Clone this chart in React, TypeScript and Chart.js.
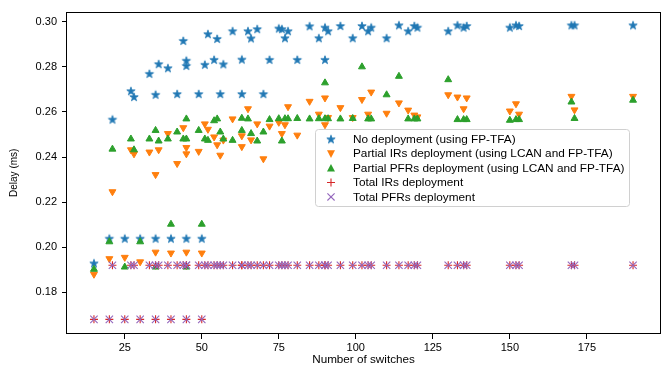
import React, { useEffect, useRef } from 'react';
import { Chart, registerables } from 'chart.js';

Chart.register(...registerables);

// Number of switches per topology (8 synthetic + 56 real topologies)
const switches = [
  15, 20, 25, 30, 35, 40, 45, 50,
  21, 27, 28, 33, 35, 36, 39, 42, 44, 45,
  45, 49, 51, 52, 54, 55, 56, 57, 60, 63,
  63, 65, 66, 68, 70, 72, 75, 76, 77, 78,
  81, 85, 88, 90, 90, 91, 95, 99, 102, 104,
  105, 110, 114, 117, 119, 120, 130, 133, 135, 136,
  150, 152, 153, 170, 171, 190,
];

const noDeployment = [
  0.1928, 0.2038, 0.2038, 0.2038, 0.2038, 0.2038, 0.2038, 0.2038,
  0.2566, 0.2692, 0.2666, 0.2769, 0.2676, 0.2812, 0.2794, 0.2679, 0.2915, 0.2827,
  0.2804, 0.2679, 0.2809, 0.2945, 0.2831, 0.2924, 0.2679, 0.2811, 0.2958, 0.2832,
  0.2679, 0.2958, 0.2926, 0.2967, 0.2679, 0.2831, 0.297, 0.2967, 0.2927, 0.2958,
  0.2831, 0.298, 0.2927, 0.2974, 0.2831, 0.2958, 0.2981, 0.2927, 0.2981, 0.2958,
  0.2974, 0.2927, 0.2984, 0.2958, 0.2981, 0.2974, 0.2958, 0.2984, 0.2974, 0.2981,
  0.2974, 0.2984, 0.2981, 0.2984, 0.2984, 0.2984,
];

const partialIRs = [
  0.188, 0.1949, 0.1955, 0.1935, 0.1978, 0.1974, 0.1978, 0.1974,
  0.2246, 0.2432, 0.2414, 0.2422, 0.2322, 0.2432, 0.2504, 0.2371, 0.253, 0.2442,
  0.2414, 0.2425, 0.2547, 0.2523, 0.2489, 0.2454, 0.2408, 0.2475, 0.2569, 0.2446,
  0.2494, 0.2614, 0.2476, 0.2547, 0.2392, 0.2537, 0.2554, 0.2504, 0.2543, 0.2623,
  0.2497, 0.2647, 0.259, 0.2662, 0.2543, 0.2575, 0.2619, 0.2575, 0.2655, 0.259,
  0.2688, 0.2594, 0.264, 0.2608, 0.2586, 0.2578, 0.2676, 0.2666, 0.2614, 0.2662,
  0.2604, 0.2636, 0.259, 0.2669, 0.2609, 0.2669,
];

const partialPFRs = [
  0.1902, 0.2024, 0.1912, 0.2024, 0.1912, 0.2102, 0.1912, 0.2102,
  0.2435, 0.248, 0.2432, 0.248, 0.2518, 0.2471, 0.248, 0.2511, 0.248, 0.2569,
  0.248, 0.2518, 0.248, 0.2474, 0.2561, 0.2569, 0.2511, 0.248, 0.2474, 0.2572,
  0.2518, 0.2569, 0.2504, 0.2471, 0.2511, 0.2566, 0.257, 0.2471, 0.257, 0.257,
  0.2571, 0.2569, 0.257, 0.2729, 0.257, 0.257, 0.2569, 0.2571, 0.28, 0.2569,
  0.2569, 0.2676, 0.2758, 0.2569, 0.2569, 0.2569, 0.2743, 0.2566, 0.2566, 0.2566,
  0.2563, 0.2566, 0.2566, 0.2644, 0.2571, 0.2652,
];

const totalIRs = [
  0.168, 0.168, 0.168, 0.168, 0.168, 0.168, 0.168, 0.168,
  0.192, 0.192, 0.192, 0.192, 0.192, 0.192, 0.192, 0.192, 0.192, 0.192,
  0.192, 0.192, 0.192, 0.192, 0.192, 0.192, 0.192, 0.192, 0.192, 0.192,
  0.192, 0.192, 0.192, 0.192, 0.192, 0.192, 0.192, 0.192, 0.192, 0.192,
  0.192, 0.192, 0.192, 0.192, 0.192, 0.192, 0.192, 0.192, 0.192, 0.192,
  0.192, 0.192, 0.192, 0.192, 0.192, 0.192, 0.192, 0.192, 0.192, 0.192,
  0.192, 0.192, 0.192, 0.192, 0.192, 0.192,
];

const totalPFRs = [
  0.168, 0.168, 0.168, 0.168, 0.168, 0.168, 0.168, 0.168,
  0.192, 0.192, 0.192, 0.192, 0.192, 0.192, 0.192, 0.192, 0.192, 0.192,
  0.192, 0.192, 0.192, 0.192, 0.192, 0.192, 0.192, 0.192, 0.192, 0.192,
  0.192, 0.192, 0.192, 0.192, 0.192, 0.192, 0.192, 0.192, 0.192, 0.192,
  0.192, 0.192, 0.192, 0.192, 0.192, 0.192, 0.192, 0.192, 0.192, 0.192,
  0.192, 0.192, 0.192, 0.192, 0.192, 0.192, 0.192, 0.192, 0.192, 0.192,
  0.192, 0.192, 0.192, 0.192, 0.192, 0.192,
];

const seriesLabels = [
  'No deployment (using FP-TFA)',
  'Partial IRs deployment (using LCAN and FP-TFA)',
  'Partial PFRs deployment (using LCAN and FP-TFA)',
  'Total IRs deployment',
  'Total PFRs deployment',
];

const xTicks = [25, 50, 75, 100, 125, 150, 175];
const yTicks = [0.18, 0.2, 0.22, 0.24, 0.26, 0.28, 0.3];

const xTitle = 'Number of switches';
const yTitle = 'Delay (ms)';

const BLUE = '#1f77b4';
const ORANGE = '#ff7f0e';
const GREEN = '#2ca02c';
const RED = '#d62728';
const PURPLE = '#9467bd';
const FONT = '"Liberation Sans", Arial, Helvetica, sans-serif';

function makeStar(color: string, R: number): HTMLCanvasElement {
  const size = Math.ceil(R * 2 + 3);
  const c = document.createElement('canvas');
  c.width = size;
  c.height = size;
  const ctx = c.getContext('2d')!;
  const cx = size / 2;
  const cy = size / 2 + R * 0.05;
  const r = R * 0.382;
  ctx.beginPath();
  for (let k = 0; k < 10; k++) {
    const ang = -Math.PI / 2 + (k * Math.PI) / 5;
    const rr = k % 2 === 0 ? R : r;
    ctx.lineTo(cx + rr * Math.cos(ang), cy + rr * Math.sin(ang));
  }
  ctx.closePath();
  ctx.fillStyle = color;
  ctx.fill();
  ctx.strokeStyle = color;
  ctx.lineWidth = 0.8;
  ctx.lineJoin = 'miter';
  ctx.stroke();
  return c;
}

function toPoints(ys: number[]) {
  return switches.map((x, i) => ({ x, y: ys[i] }));
}

export default function App() {
  const ref = useRef<HTMLCanvasElement | null>(null);

  useEffect(() => {
    document.body.style.margin = '0';
    const canvas = ref.current;
    if (!canvas) return;
    const star = makeStar(BLUE, 4.4);

    const framePlugin = {
      id: 'mplFrame',
      afterDatasetsDraw(chart: any) {
        const { ctx, chartArea: a } = chart;
        ctx.save();
        ctx.strokeStyle = '#000';
        ctx.lineWidth = 1;
        ctx.strokeRect(Math.round(a.left) - 0.5, Math.round(a.top) + 0.5, Math.round(a.right - a.left) + 1, Math.round(a.bottom - a.top) - 1);
        ctx.restore();
      },
    };

    const legendPlugin = {
      id: 'mplLegend',
      afterDraw(chart: any) {
        const { ctx } = chart;
        const bx = 315.5, by = 129.5, bw = 314, bh = 77, rad = 3;
        ctx.save();
        ctx.beginPath();
        ctx.moveTo(bx + rad, by);
        ctx.lineTo(bx + bw - rad, by);
        ctx.arcTo(bx + bw, by, bx + bw, by + rad, rad);
        ctx.lineTo(bx + bw, by + bh - rad);
        ctx.arcTo(bx + bw, by + bh, bx + bw - rad, by + bh, rad);
        ctx.lineTo(bx + rad, by + bh);
        ctx.arcTo(bx, by + bh, bx, by + bh - rad, rad);
        ctx.lineTo(bx, by + rad);
        ctx.arcTo(bx, by, bx + rad, by, rad);
        ctx.closePath();
        ctx.fillStyle = 'rgba(255,255,255,0.8)';
        ctx.fill();
        ctx.strokeStyle = '#d0d0d0';
        ctx.lineWidth = 1;
        ctx.stroke();

        const mx = 331;
        const tx = 353;
        const y0 = 139.3;
        const dy = 14.4;
        ctx.font = `11.8px ${FONT}`;
        ctx.textBaseline = 'middle';
        ctx.textAlign = 'left';
        seriesLabels.forEach((label, i) => {
          const y = y0 + i * dy;
          ctx.save();
          if (i === 0) {
            ctx.drawImage(star, mx - star.width / 2, y - star.height / 2);
          } else if (i === 1 || i === 2) {
            const r = 4.2;
            const dir = i === 1 ? -1 : 1;
            ctx.beginPath();
            ctx.moveTo(mx, y - dir * r);
            ctx.lineTo(mx - r * 0.95, y + dir * r * 0.8);
            ctx.lineTo(mx + r * 0.95, y + dir * r * 0.8);
            ctx.closePath();
            ctx.fillStyle = i === 1 ? ORANGE : GREEN;
            ctx.fill();
          } else if (i === 3) {
            ctx.strokeStyle = RED;
            ctx.lineWidth = 1.1;
            ctx.beginPath();
            ctx.moveTo(mx - 4, y);
            ctx.lineTo(mx + 4, y);
            ctx.moveTo(mx, y - 4);
            ctx.lineTo(mx, y + 4);
            ctx.stroke();
          } else {
            ctx.strokeStyle = PURPLE;
            ctx.lineWidth = 1.1;
            ctx.beginPath();
            ctx.moveTo(mx - 3.6, y - 3.6);
            ctx.lineTo(mx + 3.6, y + 3.6);
            ctx.moveTo(mx - 3.6, y + 3.6);
            ctx.lineTo(mx + 3.6, y - 3.6);
            ctx.stroke();
          }
          ctx.restore();
          ctx.fillStyle = '#000';
          ctx.fillText(label, tx, y + 0.5);
        });
        ctx.restore();
      },
    };

    const chart = new Chart(canvas, {
      type: 'scatter',
      data: {
        datasets: [
          {
            label: seriesLabels[0],
            data: toPoints(noDeployment),
            pointStyle: star as any,
            pointRadius: 4.4,
            backgroundColor: BLUE,
            borderColor: BLUE,
            order: 5,
          },
          {
            label: seriesLabels[1],
            data: toPoints(partialIRs),
            pointStyle: 'triangle',
            pointRotation: 180,
            pointRadius: 4,
            borderWidth: 1,
            backgroundColor: ORANGE,
            borderColor: ORANGE,
            order: 4,
          },
          {
            label: seriesLabels[2],
            data: toPoints(partialPFRs),
            pointStyle: 'triangle',
            pointRadius: 4,
            borderWidth: 1,
            backgroundColor: GREEN,
            borderColor: GREEN,
            order: 3,
          },
          {
            label: seriesLabels[3],
            data: toPoints(totalIRs),
            pointStyle: 'cross',
            pointRadius: 4,
            borderWidth: 1.1,
            backgroundColor: RED,
            borderColor: RED,
            order: 2,
          },
          {
            label: seriesLabels[4],
            data: toPoints(totalPFRs),
            pointStyle: 'crossRot',
            pointRadius: 5.2,
            borderWidth: 1.1,
            backgroundColor: PURPLE,
            borderColor: PURPLE,
            order: 1,
          },
        ],
      },
      options: {
        animation: false,
        responsive: false,
        devicePixelRatio: 1,
        layout: { padding: { left: 0, top: 2, right: 11, bottom: 0 } },
        plugins: {
          legend: { display: false },
          tooltip: { enabled: false },
        },
        scales: {
          x: {
            type: 'linear',
            min: 6.25,
            max: 198.75,
            afterFit: (s: any) => { s.height = 36; },
            afterBuildTicks: (s: any) => { s.ticks = xTicks.map((v) => ({ value: v })); },
            border: { display: false },
            grid: { drawOnChartArea: false, drawTicks: true, tickLength: 5, color: '#000', tickWidth: 1 },
            ticks: {
              color: '#000',
              padding: 2,
              font: { family: FONT, size: 11 },
              callback: (v: any) => String(v),
              maxRotation: 0,
            },
            title: {
              display: true,
              text: xTitle,
              color: '#000',
              font: { family: FONT, size: 11.7 },
              padding: { top: 0, bottom: 3 },
            },
          },
          y: {
            type: 'linear',
            min: 0.1615,
            max: 0.3045,
            afterFit: (s: any) => { s.width = 67; },
            afterBuildTicks: (s: any) => { s.ticks = yTicks.map((v) => ({ value: v })); },
            border: { display: false },
            grid: { drawOnChartArea: false, drawTicks: true, tickLength: 5, color: '#000', tickWidth: 1 },
            ticks: {
              color: '#000',
              padding: 5,
              font: { family: FONT, size: 11 },
              callback: (v: any) => Number(v).toFixed(2),
            },
            title: {
              display: true,
              text: yTitle,
              color: '#000',
              font: { family: FONT, size: 10 },
              padding: { top: 8, bottom: 0 },
            },
          },
        },
      },
      plugins: [framePlugin, legendPlugin],
    });

    return () => chart.destroy();
  }, []);

  return (
    <div style={{ width: 671, height: 370, position: 'relative' }}>
      <canvas ref={ref} width={671} height={370} style={{ display: 'block' }} />
    </div>
  );
}
